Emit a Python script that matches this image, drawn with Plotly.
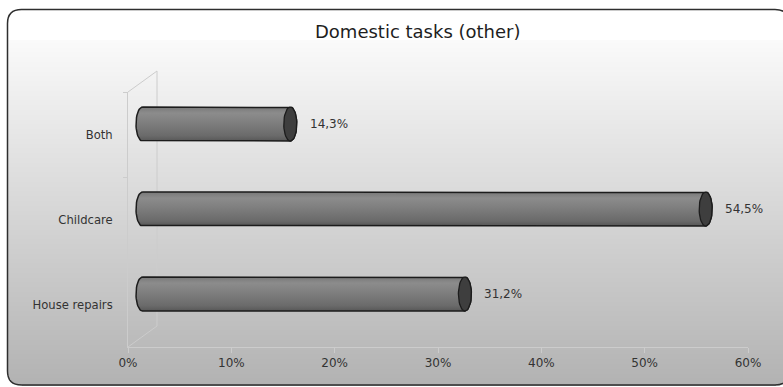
import base64
import struct
import zlib

import numpy as np
import plotly.graph_objects as go

# ---- data -------------------------------------------------------------
categories = ["House repairs", "Childcare", "Both"]   # bottom to top
values = [31.2, 54.5, 14.3]                           # percent
x_ticks = [0, 10, 20, 30, 40, 50, 60]
x_tick_labels = ["0%", "10%", "20%", "30%", "40%", "50%", "60%"]
title_text = "Domestic tasks (other)"

# ---- layout geometry (pixels) ----------------------------------------
W, H = 783, 387
PLOT_L, PLOT_R, PLOT_T, PLOT_B = 128, 748, 92, 347     # front plane
DEPTH_X, DEPTH_Y = 29, 21                              # 3-D depth offset
MID_X, MID_Y = DEPTH_X / 2, DEPTH_Y / 2                # plane of the bars
FRAME = dict(l=7.5, r=789, t=9.5, b=385, rad=14)
X_MAX = 60
X_PAD = 2                # room left of zero for the rounded bar ends
BAR_HALF = 0.2           # half bar thickness in category units
CAP_RX_PX = 6.5          # horizontal radius of the cylinder ends

FONT = "DejaVu Sans"
TEXT = "#333333"
WALL = "#cccccc"


def px(x):
    return x / W


def py(y):
    return 1 - y / H


def png_uri(rgb):
    h, w, _ = rgb.shape
    raw = b"".join(b"\x00" + rgb[r].tobytes() for r in range(h))

    def chunk(tag, data):
        body = tag + data
        return struct.pack(">I", len(data)) + body + struct.pack(">I", zlib.crc32(body) & 0xFFFFFFFF)

    png = (b"\x89PNG\r\n\x1a\n"
           + chunk(b"IHDR", struct.pack(">IIBBBBB", w, h, 8, 2, 0, 0, 0))
           + chunk(b"IDAT", zlib.compress(raw, 9))
           + chunk(b"IEND", b""))
    return "data:image/png;base64," + base64.b64encode(png).decode()


# background: white page, rounded panel with a vertical grey gradient
yy, xx = np.mgrid[0:H, 0:W].astype(float)
g_top, g_bot, y0g, y1g = 250.0, 178.0, 40.0, 385.0
shade = np.where(yy < y0g, 255.0, g_top + (g_bot - g_top) * np.clip((yy - y0g) / (y1g - y0g), 0, 1))
l, r, t, b, rad = FRAME["l"], FRAME["r"], FRAME["t"], FRAME["b"], FRAME["rad"]
inside = (xx >= l) & (xx <= r) & (yy >= t) & (yy <= b)
cx = np.clip(xx, l + rad, r - rad)
cy = np.clip(yy, t + rad, b - rad)
inside &= (xx - cx) ** 2 + (yy - cy) ** 2 <= rad ** 2
img = np.where(inside, shade, 255.0)
rgb = np.repeat(img[:, :, None], 3, axis=2).round().astype(np.uint8)
bg_uri = png_uri(rgb)

fig = go.Figure()

# front plane: carries the category axis and the percentage axis
fig.add_trace(go.Scatter(
    x=values, y=categories, xaxis="x", yaxis="y", mode="markers",
    marker=dict(opacity=0), hoverinfo="skip", showlegend=False,
))

# cylinders, drawn in the middle plane of the 3-D box
px_per_unit = (PLOT_R - PLOT_L) / X_MAX
rx = CAP_RX_PX / px_per_unit
t_arc = np.linspace(0, np.pi, 25)
t_full = np.linspace(0, 2 * np.pi, 49)
body_scale = [[0.0, "#575757"], [0.15, "#6a6a6a"], [0.55, "#7f7f7f"],
              [0.82, "#8c8c8c"], [1.0, "#787878"]]

for ci, v in enumerate(values):
    top, bot = ci + BAR_HALF, ci - BAR_HALF
    xs = ([0, v] + list(v + rx * np.sin(t_arc)) + [v, 0]
          + list(-rx * np.sin(t_arc)) + [0])
    ys = ([top, top] + list(ci + BAR_HALF * np.cos(t_arc)) + [bot, bot]
          + list(ci - BAR_HALF * np.cos(t_arc)) + [top])
    fig.add_trace(go.Scatter(
        x=xs, y=ys, xaxis="x2", yaxis="y2", mode="lines", fill="toself",
        fillgradient=dict(type="vertical", colorscale=body_scale),
        line=dict(color="#1c1c1c", width=1.5),
        hoverinfo="skip", showlegend=False,
    ))
    fig.add_trace(go.Scatter(
        x=v + rx * np.sin(t_full), y=ci + BAR_HALF * np.cos(t_full),
        xaxis="x2", yaxis="y2", mode="lines", fill="toself",
        fillcolor="#3e3e3e", line=dict(color="#1c1c1c", width=1.3),
        hoverinfo="skip", showlegend=False,
    ))
    fig.add_annotation(
        x=v, y=ci, xref="x2", yref="y2", xanchor="left", yanchor="middle",
        xshift=CAP_RX_PX + 11, showarrow=False,
        text=f"{v:.1f}".replace(".", ",") + "%",
        font=dict(family=FONT, size=12, color=TEXT),
    )

# side wall of the 3-D box
wall = [
    (PLOT_L, PLOT_T, PLOT_L + DEPTH_X, PLOT_T - DEPTH_Y),
    (PLOT_L, PLOT_B, PLOT_L + DEPTH_X, PLOT_B - DEPTH_Y),
    (PLOT_L + DEPTH_X, PLOT_T - DEPTH_Y, PLOT_L + DEPTH_X, PLOT_B - DEPTH_Y),
]
shapes = [dict(type="line", xref="paper", yref="paper", layer="below",
               x0=px(a), y0=py(b_), x1=px(c), y1=py(d),
               line=dict(color=WALL, width=1)) for a, b_, c, d in wall]

# panel frame with rounded corners
k = rad
frame_path = (
    f"M {px(l + k)},{py(t)} L {px(r - k)},{py(t)} Q {px(r)},{py(t)} {px(r)},{py(t + k)} "
    f"L {px(r)},{py(b - k)} Q {px(r)},{py(b)} {px(r - k)},{py(b)} "
    f"L {px(l + k)},{py(b)} Q {px(l)},{py(b)} {px(l)},{py(b - k)} "
    f"L {px(l)},{py(t + k)} Q {px(l)},{py(t)} {px(l + k)},{py(t)} Z"
)
shapes.append(dict(type="path", xref="paper", yref="paper", path=frame_path,
                   line=dict(color="#2e2e2e", width=1.5), layer="above"))

fig.add_annotation(
    x=px(418), y=py(32), xref="paper", yref="paper", showarrow=False,
    xanchor="center", yanchor="middle", text=title_text,
    font=dict(family=FONT, size=18, color="#1e1e1e"),
)

bar_left_px = PLOT_L + MID_X - X_PAD * px_per_unit

fig.update_layout(
    width=W, height=H,
    margin=dict(l=0, r=0, t=0, b=0, pad=0, autoexpand=False),
    paper_bgcolor="white", plot_bgcolor="rgba(0,0,0,0)",
    showlegend=False, hovermode=False,
    shapes=shapes,
    images=[dict(source=bg_uri, xref="paper", yref="paper", x=0, y=1,
                 sizex=1, sizey=1, xanchor="left", yanchor="top",
                 sizing="stretch", layer="below")],
    xaxis=dict(
        domain=[px(PLOT_L), px(PLOT_R)], range=[0, X_MAX], anchor="y",
        tickvals=x_ticks, ticktext=x_tick_labels,
        showline=True, linecolor=WALL, linewidth=1,
        ticks="outside", ticklen=5, tickcolor=WALL,
        showgrid=False, zeroline=False, fixedrange=True, automargin=False,
        tickfont=dict(family=FONT, size=12, color=TEXT),
    ),
    yaxis=dict(
        domain=[py(PLOT_B), py(PLOT_T)], anchor="x", type="category",
        categoryorder="array", categoryarray=categories, range=[-0.5, 2.5],
        showline=True, linecolor=WALL, linewidth=1,
        ticks="outside", ticklen=4, tickcolor=WALL, tickson="boundaries",
        ticklabelstandoff=12, automargin=False,
        showgrid=False, zeroline=False, fixedrange=True,
        tickfont=dict(family=FONT, size=11.6, color=TEXT),
    ),
    xaxis2=dict(
        domain=[px(bar_left_px), px(PLOT_R + MID_X)], range=[-X_PAD, X_MAX],
        anchor="y2", visible=False, fixedrange=True,
    ),
    yaxis2=dict(
        domain=[py(PLOT_B - MID_Y), py(PLOT_T - MID_Y)], range=[-0.5, 2.5],
        anchor="x2", visible=False, fixedrange=True,
    ),
)

fig.write_html("out.html")
